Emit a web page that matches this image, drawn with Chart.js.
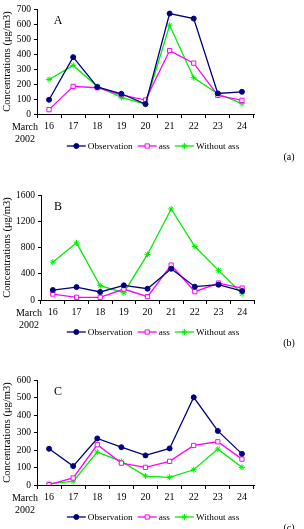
<!DOCTYPE html>
<html>
<head>
<meta charset="utf-8">
<script src="https://cdn.jsdelivr.net/npm/chart.js@4"></script>
<style>
body { margin: 0; background: #fff; width: 304px; height: 529px; overflow: hidden; position: relative; }
canvas { position: absolute; left: 0; }
</style>
</head>
<body>
<canvas id="chartA" width="304" height="175" style="top:0"></canvas>
<canvas id="chartB" width="304" height="175" style="top:175px"></canvas>
<canvas id="chartC" width="304" height="179" style="top:350px"></canvas>
<script>
// March 2002 days
var days = ['16', '17', '18', '19', '20', '21', '22', '23', '24'];
var seriesNames = ['Observation', 'ass', 'Without ass'];

var obsA = [95, 379, 180, 135, 66, 670, 636, 137, 148];
var assA = [29, 184, 175, 128, 93, 423, 339, 124, 91];
var withoutA = [230, 324, 184, 111, 66, 592, 242, 135, 69];

var obsB = [152, 197, 122, 223, 172, 476, 203, 233, 137];
var assB = [91, 41, 41, 167, 51, 532, 127, 258, 182];
var withoutB = [577, 871, 218, 111, 694, 1387, 815, 451, 96];

var obsC = [207, 108, 266, 216, 169, 209, 501, 309, 178];
var assC = [2, 40, 230, 125, 101, 135, 226, 247, 148];
var withoutC = [8, 21, 188, 135, 51, 44, 87, 205, 101];

var yMaxA = 700, yStepA = 100;
var yMaxB = 1600, yStepB = 200;
var yMaxC = 600, yStepC = 100;

var serif = '"Liberation Serif", "Times New Roman", serif';
var styles = [
    { color: '#000080', pointStyle: 'circle', radius: 2.5, fill: '#000080' },
    { color: '#ff00ff', pointStyle: 'rect', radius: 3, fill: '#ffffff' },
    { color: '#00ee00', pointStyle: 'star', radius: 3, fill: '#00ee00' }
];

// letter, captions, march label, legend
var extrasPlugin = {
    id: 'extras',
    afterDraw: function(chart) {
        var ctx = chart.ctx;
        var area = chart.chartArea;
        var o = chart.options.plugins.extras;
        ctx.save();
        ctx.fillStyle = '#000';
        ctx.textBaseline = 'middle';
        ctx.textAlign = 'center';
        ctx.font = '12px ' + serif;
        ctx.fillText(o.letter, 58, area.top + 12);

        ctx.font = '10px ' + serif;
        ctx.fillText('March', area.left - 12, area.bottom + 13);
        ctx.fillText('2002', area.left - 12, area.bottom + 25);

        ctx.font = '10px ' + serif;
        ctx.fillText(o.caption, 289, area.bottom + 43);

        // legend
        ctx.font = '9.2px ' + serif;
        var symW = 19, gap = 2, spacing = 5;
        var total = 0;
        seriesNames.forEach(function(n, i) {
            total += symW + gap + ctx.measureText(n).width + (i < seriesNames.length - 1 ? spacing : 0);
        });
        var x = 153 - total / 2;
        var y = area.bottom + 32;
        ctx.textAlign = 'left';
        seriesNames.forEach(function(n, i) {
            var s = styles[i];
            ctx.strokeStyle = s.color;
            ctx.lineWidth = 1.3;
            ctx.beginPath();
            ctx.moveTo(x, y);
            ctx.lineTo(x + symW, y);
            ctx.stroke();
            ctx.fillStyle = s.fill;
            ctx.lineWidth = 1;
            Chart.helpers.drawPoint(ctx, { pointStyle: s.pointStyle, radius: s.radius, rotation: 0, borderWidth: 1 }, x + symW / 2, y);
            ctx.fillStyle = '#000';
            ctx.fillText(n, x + symW + gap, y + 0.5);
            x += symW + gap + ctx.measureText(n).width + spacing;
        });
        ctx.restore();
    }
};

function makeChart(id, values, yMax, yStep, letter, caption, box) {
    var canvas = document.getElementById(id);
    var datasets = values.map(function(v, i) {
        var s = styles[i];
        return {
            label: seriesNames[i],
            data: v,
            borderColor: s.color,
            backgroundColor: s.fill,
            borderWidth: 1.3,
            tension: 0,
            pointStyle: s.pointStyle,
            pointRadius: s.radius,
            pointBorderColor: s.color,
            pointBackgroundColor: s.fill,
            pointBorderWidth: 1
        };
    });

    return new Chart(canvas.getContext('2d'), {
        type: 'line',
        data: { labels: days, datasets: datasets },
        plugins: [extrasPlugin],
        options: {
            responsive: false,
            animation: false,
            layout: { padding: { left: 0, top: box.top, right: 304 - box.right, bottom: 0 } },
            plugins: {
                legend: { display: false },
                tooltip: { enabled: false },
                extras: { letter: letter, caption: caption }
            },
            scales: {
                x: {
                    offset: true,
                    grid: { offset: true, drawOnChartArea: false, tickLength: 4, color: '#000' },
                    border: { color: '#000', width: 1 },
                    ticks: { color: '#000', font: { family: serif, size: 10 }, padding: 2, maxRotation: 0, autoSkip: false },
                    afterFit: function(scale) { scale.height = canvas.height - box.bottom; }
                },
                y: {
                    min: 0,
                    max: yMax,
                    grid: { drawOnChartArea: false, tickLength: 3, color: '#000' },
                    border: { color: '#000', width: 1 },
                    ticks: {
                        stepSize: yStep,
                        color: '#000',
                        font: { family: serif, size: 9.5 },
                        padding: 3,
                        callback: function(value) { return String(value); }
                    },
                    title: {
                        display: true,
                        text: 'Concentrations (μg/m3)',
                        color: '#000',
                        font: { family: serif, size: 10.5 },
                        padding: 1
                    },
                    afterFit: function(scale) { scale.width = box.left; }
                }
            }
        }
    });
}

makeChart('chartA', [obsA, assA, withoutA], yMaxA, yStepA, 'A', '(a)', { left: 37, right: 254, top: 9, bottom: 114 });
makeChart('chartB', [obsB, assB, withoutB], yMaxB, yStepB, 'B', '(b)', { left: 41, right: 254, top: 20, bottom: 125 });
makeChart('chartC', [obsC, assC, withoutC], yMaxC, yStepC, 'C', '(c)', { left: 37, right: 254, top: 30, bottom: 135 });
</script>
</body>
</html>
